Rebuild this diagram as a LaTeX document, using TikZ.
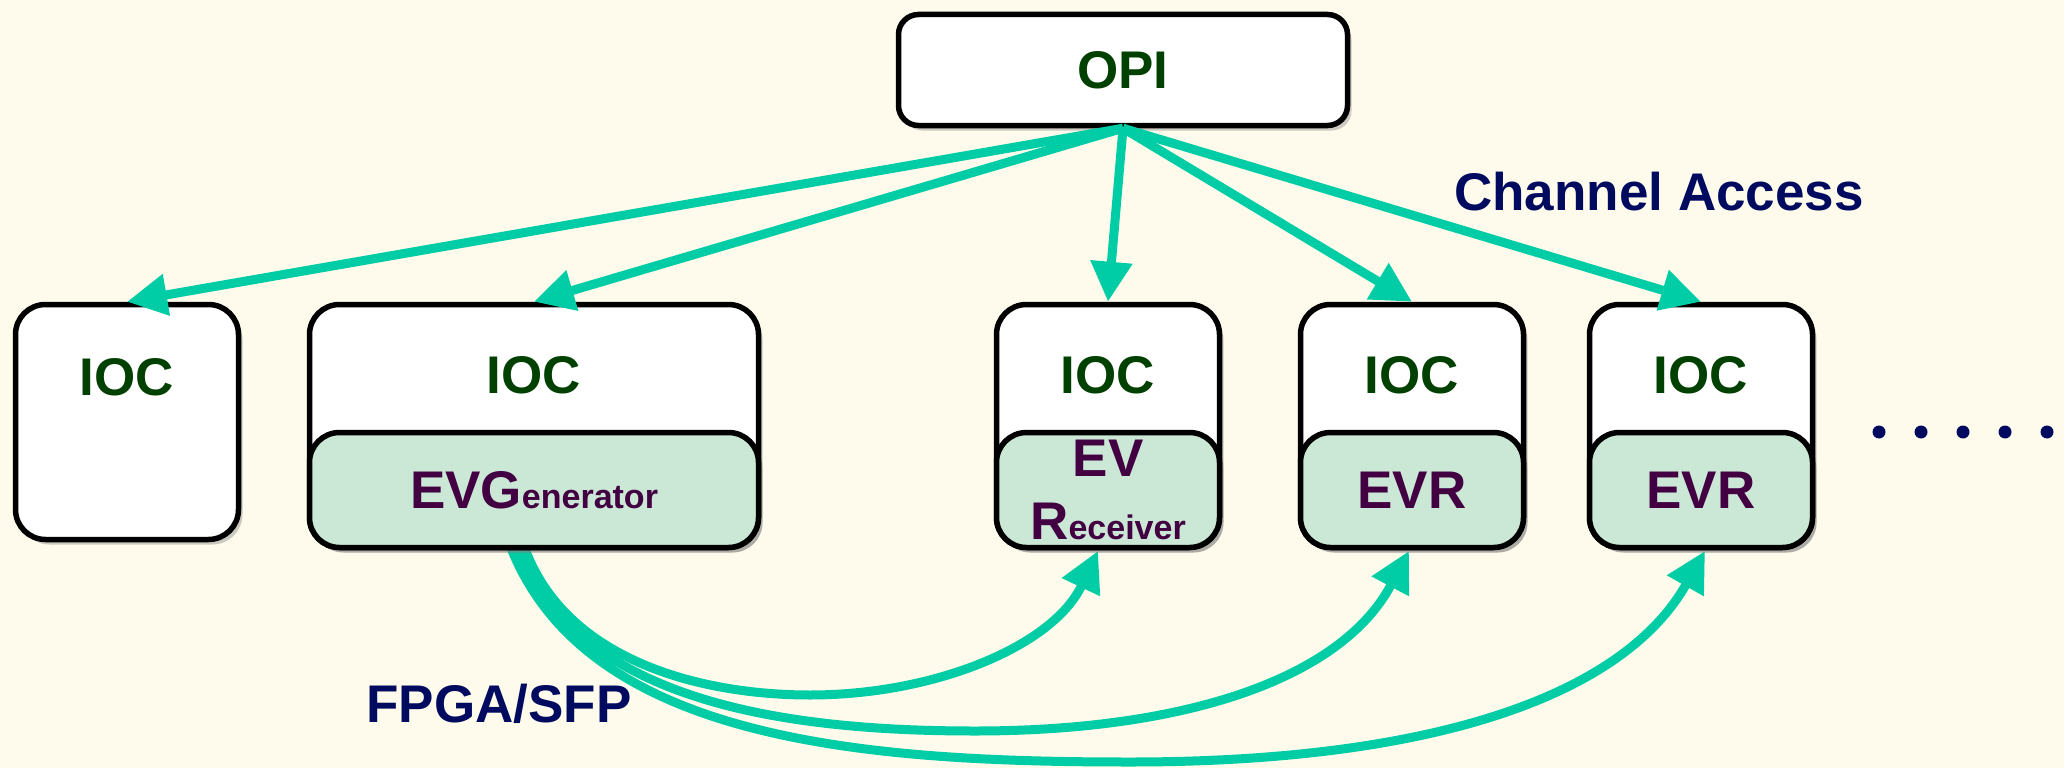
\documentclass[tikz,border=0pt]{standalone}
\usepackage{fontspec}
\setmainfont{Liberation Sans}
\usetikzlibrary{arrows.meta,
	shadows,
	calc}

\definecolor{bgcream}{RGB}{254,251,236}
\definecolor{linkteal}{RGB}{0,205,165}
\definecolor{evfill}{RGB}{203,232,214}
\definecolor{ioctext}{RGB}{0,64,0}
\definecolor{evtext}{RGB}{66,0,66}
\definecolor{labelblue}{RGB}{0,10,94}

\newcommand{\smalltype}{\fontsize{34}{40}\selectfont\bfseries}

\begin{document}
\begin{tikzpicture}[x=1pt, y=-1pt,
	box/.style={draw=black, line width=5.5pt, fill=white, rounded corners=30pt, inner sep=0pt,
		drop shadow={shadow xshift=4pt, shadow yshift=-5pt, opacity=0.4}},
	evbox/.style={box, fill=evfill, text=evtext, align=center, font=\fontsize{53}{63}\selectfont\bfseries},
	boxtext/.style={text=ioctext, inner sep=0pt, font=\fontsize{53}{63}\selectfont\bfseries},
	note/.style={text=labelblue, inner sep=0pt, font=\fontsize{53}{63}\selectfont\bfseries},
	link/.style={draw=linkteal, line width=9pt, -{Triangle[length=40pt, width=40pt]},
		preaction={draw=black, opacity=0.15, transform canvas={shift={(2pt,-3pt)}}}}]
	\fill[bgcream] (0,0) rectangle (2064,768);
	\useasboundingbox (0,0) rectangle (2064,768);

	% event link ends under the boxes
	\coordinate (evgout) at (534,540);
	\coordinate (evr1in) at (1098,551);
	\coordinate (evr2in) at (1409,551);
	\coordinate (evr3in) at (1705,551);
	\coordinate (low1) at (810,695);
	\coordinate (low2) at (975,731);
	\coordinate (low3) at (1130,762);
	\draw[link] ([xshift=-26pt]evgout) .. controls +(72,200) and +(-270,0) .. (low3)
		.. controls +(290,0) and +(-85,150) .. (evr3in);
	\draw[link] ([xshift=-19pt]evgout) .. controls +(55,160) and +(-195,0) .. (low2)
		.. controls +(205,0) and +(-69,130) .. (evr2in);
	\draw[link] ([xshift=-12pt]evgout) .. controls +(38,120) and +(-110,0) .. (low1)
		.. controls +(125,0) and +(-45,95) .. (evr1in);
	\node[note] (fpga) at (499,704) {FPGA/SFP};

	% operator interface
	\node[box, rounded corners=20pt, minimum width=449pt, minimum height=111pt] (opi) at (1123,70) {};
	\node[boxtext] (opilabel) at (opi.center) {OPI};

	% IOCs
	\node[box, minimum width=223pt, minimum height=235pt] (ioc1) at (127,422) {};
	\node[boxtext] (ioc1label) at ([yshift=-76pt]ioc1.north) {IOC};

	\node[box, minimum width=449pt, minimum height=243pt] (ioc2) at (534,426) {};
	\node[boxtext] (ioc2label) at ([yshift=-74pt]ioc2.north) {IOC};
	\node[evbox, minimum width=449pt, minimum height=115pt] (evg) at (534,490) {EVG{\smalltype enerator}};

	\node[box, minimum width=223pt, minimum height=243pt] (ioc3) at (1108,426) {};
	\node[boxtext] (ioc3label) at ([yshift=-74pt]ioc3.north) {IOC};
	\node[evbox, minimum width=223pt, minimum height=115pt] (evr1) at (1108,490) {EV\\R{\smalltype eceiver}};

	\node[box, minimum width=223pt, minimum height=243pt] (ioc4) at (1412,426) {};
	\node[boxtext] (ioc4label) at ([yshift=-74pt]ioc4.north) {IOC};
	\node[evbox, minimum width=223pt, minimum height=115pt] (evr2) at (1412,490) {EVR};

	\node[box, minimum width=223pt, minimum height=243pt] (ioc5) at (1701,426) {};
	\node[boxtext] (ioc5label) at ([yshift=-74pt]ioc5.north) {IOC};
	\node[evbox, minimum width=223pt, minimum height=115pt] (evr3) at (1701,490) {EVR};

	\foreach \i in {0,...,4}
		\fill[labelblue] (1879+42*\i, 432) circle (6.5pt);

	% channel access
	\draw[link] (opi.south) -- (ioc1.north);
	\draw[link] (opi.south) -- (ioc2.north);
	\draw[link] (opi.south) -- (ioc3.north);
	\draw[link] (opi.south) -- (ioc4.north);
	\draw[link] (opi.south) -- (ioc5.north);
	\node[note] (ca) at (1659,192) {Channel Access};
\end{tikzpicture}
\end{document}
